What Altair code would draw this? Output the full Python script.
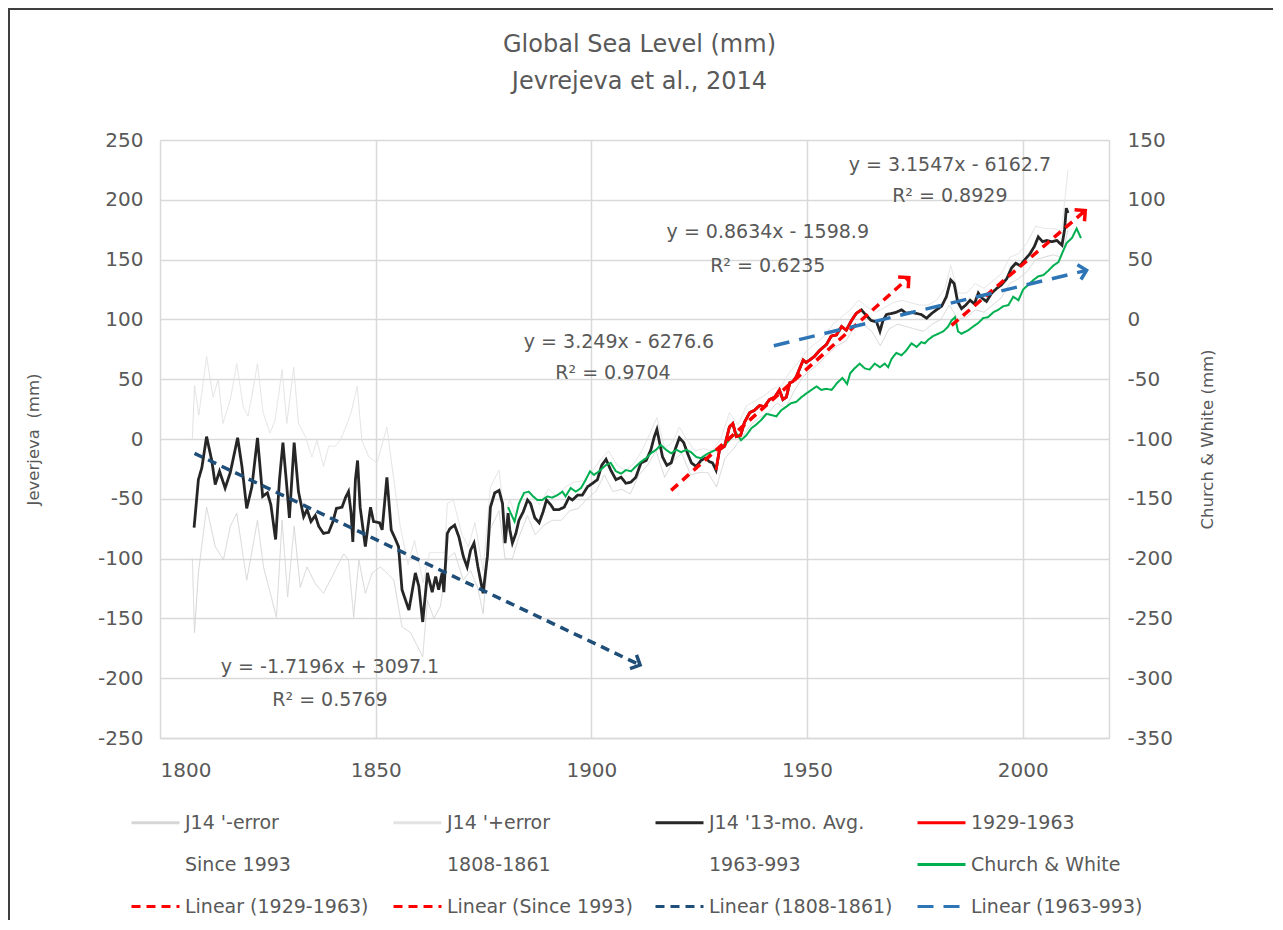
import math
import pandas as pd
import altair as alt

# ---------------- data ----------------
j14_year = [1807.9, 1808.9, 1809.7, 1810.8, 1812.0, 1812.8, 1813.8, 1815.1, 1816.3, 1818.0,
            1819.0, 1820.1, 1821.3, 1822.6, 1823.8, 1824.9, 1825.7, 1826.8, 1827.7, 1828.5,
            1829.4, 1830.0, 1831.1, 1832.1, 1833.3, 1834.1, 1835.0, 1836.0, 1836.8, 1837.9,
            1839.1, 1840.1, 1840.9, 1842.2, 1843.0, 1843.7, 1844.3, 1844.7, 1845.3, 1845.8,
            1846.4, 1847.6, 1848.8, 1849.5, 1850.9, 1851.5, 1852.6, 1853.6, 1854.6, 1855.3,
            1856.1, 1857.7, 1859.2, 1860.0, 1860.9, 1862.0, 1863.1, 1863.9, 1864.6, 1865.4,
            1865.8, 1866.6, 1867.2, 1868.3, 1869.3, 1870.3, 1871.2, 1872.0, 1872.8, 1873.7,
            1874.9, 1875.9, 1876.6, 1877.6, 1878.6, 1879.4, 1880.0, 1880.7, 1881.1, 1881.7,
            1882.5, 1883.2, 1884.2, 1885.2, 1885.9, 1886.9, 1887.9, 1888.8, 1889.6, 1890.6,
            1891.3, 1892.5, 1893.7, 1894.8, 1895.6, 1896.8, 1897.9, 1899.1, 1900.3, 1901.4,
            1902.4, 1903.4, 1904.5, 1905.7, 1906.9, 1908.0, 1909.2, 1910.3, 1911.5, 1912.7,
            1913.8, 1914.6, 1915.2, 1915.7, 1916.5, 1917.5, 1918.5, 1919.4, 1920.4, 1921.4,
            1922.3, 1923.2, 1924.3, 1925.4, 1926.4, 1927.4, 1928.1, 1928.9, 1929.7, 1930.9,
            1932.0, 1932.8, 1933.6, 1934.6, 1935.5, 1936.7, 1937.8, 1939.0, 1940.1, 1941.3,
            1942.5, 1943.6, 1944.4, 1945.2, 1946.0, 1946.7, 1947.5, 1948.3, 1949.1, 1949.8,
            1950.6, 1951.7, 1952.9, 1954.5, 1955.6, 1956.8, 1958.0, 1959.1, 1960.3, 1961.4,
            1962.6, 1963.8, 1964.9, 1966.1, 1966.9, 1967.6, 1968.4, 1969.6, 1970.7, 1971.9,
            1973.0, 1974.2, 1975.4, 1976.5, 1977.7, 1978.9, 1980.0, 1981.2, 1982.3, 1983.3,
            1984.1, 1984.9, 1985.8, 1986.8, 1987.8, 1988.8, 1989.7, 1990.5, 1991.6, 1992.8,
            1994.0, 1995.1, 1996.3, 1997.4, 1998.4, 1999.4, 2000.5, 2001.7, 2002.7, 2003.6,
            2004.6, 2005.6, 2006.7, 2007.9, 2009.1, 2009.7, 2010.1, 2010.5]
j14_mm = [-74, -34, -24, 2, -18, -38, -27, -41, -28, 1,
          -23, -58, -40, 1, -48, -45, -55, -84, -34, -3,
          -40, -66, -3, -44, -65, -59, -69, -64, -73, -79,
          -78, -69, -58, -57, -49, -44, -62, -86, -34, -18,
          -57, -90, -57, -69, -70, -76, -32, -76, -84, -90,
          -126, -143, -112, -123, -153, -112, -128, -115, -126, -112,
          -128, -79, -75, -72, -82, -98, -107, -93, -87, -107,
          -129, -98, -57, -45, -43, -54, -87, -62, -76, -87,
          -79, -68, -61, -51, -54, -66, -70, -61, -51, -55,
          -59, -59, -57, -49, -51, -47, -47, -40, -37, -34,
          -22, -17, -26, -34, -32, -37, -36, -32, -20, -18,
          -9, 2, 8, -1, -15, -22, -20, -9, 1, -3,
          -12, -20, -23, -18, -16, -19, -20, -26, -9, -6,
          10, 13, 2, 3, 14, 22, 24, 28, 27, 33,
          35, 41, 33, 35, 47, 48, 52, 59, 66, 64,
          66, 69, 74, 79, 86, 87, 94, 91, 99, 105,
          108, 103, 99, 98, 90, 99, 104, 105, 106, 108,
          105, 106, 105, 104, 101, 105, 108, 111, 119, 133,
          130, 115, 109, 112, 116, 113, 122, 118, 115, 122,
          126, 129, 134, 143, 147, 145, 150, 155, 161, 169,
          165, 166, 165, 166, 162, 175, 193, 189]

err_hi_year = [1807.5, 1808, 1809, 1810.8, 1812.3, 1813.5, 1814.6, 1816.3, 1817.8, 1819.3,
               1820.4, 1821.5, 1822.6, 1823.9, 1825.5, 1826.7, 1828.3, 1829.4, 1831, 1832.1,
               1833.7, 1835.2, 1836.4, 1837.9, 1839.1, 1840.6, 1841.8, 1843.4, 1844.3, 1845.7,
               1846.8, 1848.4, 1850.3, 1852.6, 1854.2, 1855.7, 1857.5, 1859, 1861, 1862.5,
               1864, 1866, 1866.6, 1868, 1870, 1871.5, 1873, 1874.9, 1876.6, 1878.6,
               1880, 1881, 1882.5, 1884, 1886, 1888, 1890, 1892, 1894, 1896,
               1898, 1900, 1902, 1904, 1906, 1908, 1910, 1912, 1914, 1915.2,
               1917, 1919, 1920.4, 1922, 1924, 1926, 1928, 1930, 1932, 1934,
               1936, 1938, 1940, 1942, 1944, 1946, 1948, 1950, 1952, 1954,
               1956, 1958, 1960, 1962, 1964, 1966, 1968, 1970, 1972, 1974,
               1976, 1978, 1980, 1982, 1983.3, 1985, 1987, 1989, 1991, 1993,
               1995, 1997, 1999, 2001, 2003, 2005, 2007, 2009, 2010.5]
err_hi_mm = [0, 45, 20, 69, 35, 50, 13, 33, 63, 27,
             19, 40, 63, 22, 5, 16, 58, 13, 60, 13,
             2, -15, -1, -23, -6, -6, -1, 13, 22, 44,
             -1, -15, -20, 10, -34, -73, -105, -85, -120, -95,
             -95, -95, -54, -51, -80, -90, -70, -110, -40, -26,
             -70, -50, -65, -48, -45, -55, -42, -48, -40, -36,
             -35, -28, -18, -10, -22, -26, -20, -8, 8, 18,
             -8, -2, 10, 0, -10, -8, -10, 0, 22, 12,
             28, 32, 36, 42, 44, 56, 64, 74, 80, 86,
             96, 102, 108, 116, 110, 106, 110, 114, 116, 114,
             112, 112, 116, 126, 145, 122, 122, 130, 126, 132,
             138, 152, 155, 164, 178, 176, 176, 174, 225]

err_lo_year = [1807.5, 1808, 1808.9, 1810.8, 1812.8, 1814.7, 1816.3, 1817.8, 1820.1, 1822.6,
               1824, 1827, 1828.3, 1829.6, 1831.1, 1832.5, 1834.1, 1836, 1837.9, 1839.5,
               1841, 1842.6, 1843.7, 1844.9, 1846.1, 1847.6, 1849.2, 1851.1, 1852.6, 1854.2,
               1856.1, 1858.1, 1860.9, 1862, 1863.5, 1865, 1866.6, 1868.3, 1870.3, 1872,
               1873.7, 1874.9, 1876.6, 1878.6, 1880, 1881.7, 1883.2, 1885.2, 1887, 1889,
               1891, 1893, 1895, 1897, 1899, 1901, 1903, 1905, 1907, 1909,
               1911, 1913, 1915, 1917, 1919, 1921, 1923, 1925, 1927, 1929,
               1931, 1933, 1935, 1937, 1939, 1941, 1943, 1945, 1947, 1949,
               1951, 1953, 1955, 1957, 1959, 1961, 1963, 1965, 1967, 1969,
               1971, 1973, 1975, 1977, 1979, 1981, 1983, 1985, 1987, 1989,
               1991, 1993, 1995, 1997, 1999, 2001, 2003, 2005, 2007, 2009, 2010.5]
err_lo_mm = [-100, -162, -112, -57, -90, -101, -73, -62, -118, -68,
             -107, -149, -68, -132, -73, -124, -107, -121, -129, -118,
             -107, -96, -101, -149, -101, -129, -112, -107, -112, -118,
             -157, -162, -182, -135, -150, -140, -100, -95, -118, -110,
             -125, -146, -75, -60, -100, -100, -82, -64, -80, -72,
             -68, -68, -60, -58, -50, -44, -30, -44, -42, -46,
             -30, -22, -10, -32, -18, -12, -30, -28, -28, -40,
             -16, -8, 2, 12, 18, 22, 30, 26, 40, 52,
             58, 64, 72, 78, 82, 94, 96, 90, 78, 92,
             96, 94, 92, 90, 96, 100, 112, 100, 102, 108,
             106, 112, 118, 130, 134, 140, 150, 152, 154, 152, 175]

# Church & White, in right-axis units (mm)
cw_year = [1880.7, 1881.3, 1882.2, 1883.2, 1884.4, 1885.5, 1886.5, 1887.5, 1888.6, 1889.8,
           1890.9, 1892.1, 1893.3, 1894.0, 1895.2, 1896.4, 1897.6, 1898.7, 1899.7, 1900.6,
           1901.8, 1903.3, 1904.5, 1905.7, 1906.9, 1908.0, 1909.2, 1910.3, 1911.5, 1912.7,
           1913.8, 1915.0, 1916.1, 1917.3, 1918.5, 1919.7, 1920.8, 1922.0, 1923.1, 1924.3,
           1925.4, 1926.6, 1927.7, 1928.9, 1930.1, 1931.2, 1932.4, 1933.6, 1934.7, 1935.9,
           1937.1, 1938.2, 1939.4, 1940.6, 1941.7, 1942.9, 1944.0, 1945.2, 1946.3, 1947.5,
           1948.7, 1949.8, 1951.0, 1952.2, 1953.3, 1954.5, 1955.7, 1957.0, 1958.2, 1959.3,
           1960.0, 1961.0, 1962.2, 1963.4, 1964.5, 1965.7, 1966.9, 1968.0, 1968.8, 1969.6,
           1970.7, 1971.9, 1973.0, 1974.2, 1975.4, 1976.5, 1977.3, 1978.1, 1979.2, 1980.4,
           1981.6, 1982.7, 1983.5, 1984.3, 1985.0, 1985.8, 1987.4, 1988.5, 1989.7, 1990.8,
           1992.0, 1993.2, 1994.3, 1995.5, 1996.7, 1997.8, 1999.0, 2000.1, 2001.3, 2002.5,
           2003.6, 2004.8, 2006.0, 2007.1, 2008.3, 2009.1, 2010.2, 2011.4, 2012.5, 2013.5]
cw_mm = [-157, -162, -169, -154, -145, -144, -148, -151, -151, -148,
         -149, -147, -144, -148, -141, -144, -141, -134, -127, -130,
         -127, -122, -120, -127, -129, -126, -127, -123, -119, -116,
         -112, -109, -105, -109, -112, -109, -111, -109, -111, -115,
         -116, -113, -111, -109, -106, -104, -99, -95, -101, -97,
         -91, -88, -84, -79, -80, -81, -76, -73, -70, -69,
         -65, -62, -59, -56, -59, -58, -59, -53, -49, -54,
         -45, -41, -37, -41, -42, -37, -40, -37, -40, -33,
         -28, -30, -26, -20, -23, -19, -20, -17, -14, -12,
         -10, -6, -1, 2, -10, -12, -9, -6, -3, 1,
         2, 6, 8, 11, 12, 19, 16, 25, 29, 33,
         36, 37, 41, 45, 48, 55, 64, 68, 76, 68]

# trend lines: start / end of each dashed arrow
trend_series = ["Linear (1808-1861)", "Linear (1929-1963)", "Linear (Since 1993)", "Linear (1963-993)"]
trend_x0 = [1808.0, 1918.5, 1983.5, 1942.3]
trend_y0 = [-12, -43, 95, 78]
trend_x1 = [1911.3, 1973.6, 2014.5, 2014.8]
trend_y1 = [-189, 135, 191, 141]

eq_text = ["y = -1.7196x + 3097.1", "R\u00b2 = 0.5769",
           "y = 3.249x - 6276.6", "R\u00b2 = 0.9704",
           "y = 0.8634x - 1598.9", "R\u00b2 = 0.6235",
           "y = 3.1547x - 6162.7", "R\u00b2 = 0.8929"]
eq_x = [1839.4, 1839.4, 1906.4, 1905.0, 1940.9, 1940.9, 1983.1, 1983.1]
eq_y = [-191, -218, 81, 55, 173, 145, 229, 203]

title_lines = ["Global Sea Level (mm)", "Jevrejeva et al., 2014"]

# legend entries, listed column by column (the legend fills columns first)
legend_names = ["J14 '-error", "Since 1993", "Linear (1929-1963)",
                "J14 '+error", "1808-1861", "Linear (Since 1993)",
                "J14 '13-mo. Avg.", "1963-993", "Linear (1808-1861)",
                "1929-1963", "Church & White", "Linear (1963-993)"]
legend_colors = ["#D6D6D6", "transparent", "#FF0000",
                 "#E3E3E3", "transparent", "#FF0000",
                 "#262626", "transparent", "#1F4E79",
                 "#FF0000", "#00B050", "#2E75B6"]
legend_dash = [[1, 0], [1, 0], [9, 6],
               [1, 0], [1, 0], [9, 6],
               [1, 0], [1, 0], [9, 6],
               [1, 0], [1, 0], [16, 10]]

# ---------------- layout / style ----------------
W, H = 949, 598
X_DOM = [1800, 2020]
YL_DOM = [-250, 250]
YR_DOM = [-350, 150]
FONT = "DejaVu Sans"
TXT = "#595959"
GRID = "#D9D9D9"

j14 = pd.DataFrame({"year": j14_year, "mm": j14_mm, "series": "J14 '13-mo. Avg."})
err_hi = pd.DataFrame({"year": err_hi_year, "mm": err_hi_mm, "series": "J14 '+error"})
err_lo = pd.DataFrame({"year": err_lo_year, "mm": err_lo_mm, "series": "J14 '-error"})
cw = pd.DataFrame({"year": cw_year, "mm": cw_mm, "series": "Church & White"})

trend_rows = []
arrow_rows = []
ppy = W / (X_DOM[1] - X_DOM[0])
ppm = H / (YL_DOM[1] - YL_DOM[0])
for s, a, b, c, d in zip(trend_series, trend_x0, trend_y0, trend_x1, trend_y1):
    trend_rows.append({"series": s, "year": a, "mm": b})
    trend_rows.append({"series": s, "year": c, "mm": d})
    ang = math.degrees(math.atan2(-(d - b) * ppm, (c - a) * ppy)) % 360
    arrow_rows.append({"series": s, "year": c, "mm": d, "angle": ang})
trend = pd.DataFrame(trend_rows)
arrows = pd.DataFrame(arrow_rows)
eqs = pd.DataFrame({"year": eq_x, "mm": eq_y, "text": eq_text})

legend = alt.Legend(
    title=None, orient="none", legendX=-30, legendY=657, columns=4,
    symbolType="stroke", symbolSize=2304, symbolStrokeWidth=3,
    labelFont=FONT, labelFontSize=19, labelColor=TXT, labelLimit=400,
    columnPadding=16, rowPadding=6, gridAlign="all", labelOffset=4,
)
color_scale = alt.Scale(domain=legend_names, range=legend_colors)
dash_scale = alt.Scale(domain=legend_names, range=legend_dash)
col = alt.Color("series:N", scale=color_scale, legend=legend)
dash = alt.StrokeDash("series:N", scale=dash_scale, legend=legend)

x_enc = alt.X(
    "year:Q", title=None,
    scale=alt.Scale(domain=X_DOM, nice=False, zero=False),
    axis=alt.Axis(values=[1800, 1850, 1900, 1950, 2000], format="d", grid=True,
                  gridColor=GRID, gridWidth=1.5, domain=True, domainColor=GRID,
                  domainWidth=1.5, ticks=False, labelFont=FONT, labelFontSize=20,
                  labelColor=TXT, labelPadding=22),
)
y_left = alt.Y(
    "mm:Q",
    scale=alt.Scale(domain=YL_DOM, nice=False, zero=False),
    axis=alt.Axis(values=list(range(-250, 251, 50)), grid=True, gridColor=GRID,
                  gridWidth=1.5, domain=False, ticks=False, labelFont=FONT,
                  labelFontSize=20, labelColor=TXT, labelPadding=17,
                  labelExpr="'' + datum.value",
                  title="Jeverjeva\u00a0\u00a0(mm)", titleFont=FONT, titleFontSize=16.5,
                  titleFontWeight="normal", titleColor=TXT, titleAngle=270,
                  titleX=-127, titleY=H / 2, titleAlign="center", titleBaseline="middle"),
)
y_right = alt.Y(
    "mm:Q",
    scale=alt.Scale(domain=YR_DOM, nice=False, zero=False),
    axis=alt.Axis(orient="right", values=list(range(-350, 151, 50)), grid=False,
                  domain=True, domainColor=GRID, domainWidth=1.5, ticks=False,
                  labelFont=FONT, labelFontSize=20, labelColor=TXT, labelPadding=18,
                  labelExpr="'' + datum.value",
                  title="Church & White (mm)", titleFont=FONT, titleFontSize=16.5,
                  titleFontWeight="normal", titleColor=TXT, titleAngle=270,
                  titleX=98, titleY=H / 2, titleAlign="center", titleBaseline="middle"),
)
y_hidden = alt.Y("mm:Q", scale=alt.Scale(domain=YL_DOM, nice=False, zero=False), axis=None)

# group 1: left axis series
g_err_lo = alt.Chart(err_lo).mark_line(strokeWidth=1).encode(x=x_enc, y=y_left, color=col, strokeDash=dash)
g_err_hi = alt.Chart(err_hi).mark_line(strokeWidth=1).encode(x=x_enc, y=y_left, color=col, strokeDash=dash)
g_j14 = alt.Chart(j14).mark_line(strokeWidth=2.8).encode(x=x_enc, y=y_left, color=col, strokeDash=dash)
group1 = alt.layer(g_err_lo, g_err_hi, g_j14)

# group 2: right axis (Church & White)
group2 = alt.Chart(cw).mark_line(strokeWidth=2).encode(x=x_enc, y=y_right, color=col, strokeDash=dash)

# group 3: overlays on the left scale
g_red = (alt.Chart(j14)
         .transform_filter("datum.year >= 1928.5 && datum.year <= 1963")
         .transform_calculate(series="'1929-1963'")
         .mark_line(strokeWidth=2.8)
         .encode(x=x_enc, y=y_hidden, color=col, strokeDash=dash))
g_trend = alt.Chart(trend).mark_line(strokeWidth=3.5).encode(
    x=x_enc, y=y_hidden, color=col, strokeDash=dash, detail="series:N")
g_arrow = alt.Chart(arrows).mark_point(
    shape="M-1,-1L0,0L-1,1", filled=False, strokeWidth=3.5, size=230, opacity=1
).encode(x=x_enc, y=y_hidden, color=col, angle=alt.Angle("angle:Q", scale=None))
g_text = alt.Chart(eqs).mark_text(
    font=FONT, fontSize=19, color=TXT, align="center", baseline="middle"
).encode(x=x_enc, y=y_hidden, text="text:N")
one = pd.DataFrame({"k": [0]})
g_title1 = alt.Chart(one).mark_text(
    text=title_lines[0], font=FONT, fontSize=24, color=TXT, align="center", baseline="middle"
).encode(x=alt.value(W / 2 + 5), y=alt.value(-95))
g_title2 = alt.Chart(one).mark_text(
    text=title_lines[1], font=FONT, fontSize=24, color=TXT, align="center", baseline="middle"
).encode(x=alt.value(W / 2 + 5), y=alt.value(-58))
g_border = alt.Chart(one).mark_rect(
    filled=False, stroke="#3F3F3F", strokeWidth=2
).encode(x=alt.value(-151), x2=alt.value(W + 200), y=alt.value(-131), y2=alt.value(H + 260))
group3 = alt.layer(g_red, g_trend, g_arrow, g_text, g_title1, g_title2, g_border)

chart = (
    alt.layer(group1, group2, group3)
    .resolve_scale(y="independent")
    .properties(
        width=W, height=H,
        autosize=alt.AutoSizeParams(type="none"),
        padding={"left": 152, "top": 132, "right": 164, "bottom": 182},
    )
    .configure_view(stroke=None)
    .configure(background="white")
)

chart.save("out.html", embed_options={"renderer": "svg", "actions": False})
